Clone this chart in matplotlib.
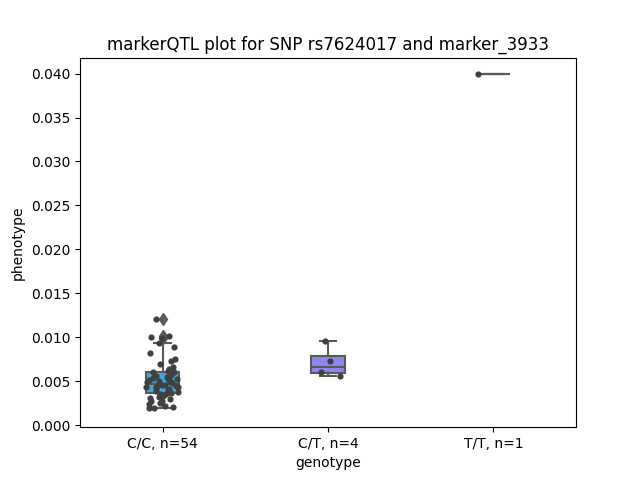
import numpy as np
import matplotlib
matplotlib.use("Agg")
import matplotlib.pyplot as plt
from matplotlib.ticker import FormatStrFormatter

categories = ["C/C, n=54", "C/T, n=4", "T/T, n=1"]
cc_values = [0.0019, 0.0020, 0.0021, 0.0022, 0.0024, 0.0025, 0.0027, 0.0028, 0.0030,
             0.0031, 0.0032, 0.0033, 0.0035, 0.0036, 0.0037,
             0.0038, 0.0039, 0.0040, 0.0041, 0.0042, 0.0043, 0.0043, 0.0044, 0.0045,
             0.0045, 0.0046, 0.0046, 0.0048,
             0.0049, 0.0050, 0.0050, 0.0051, 0.0052, 0.0053, 0.0054, 0.0055, 0.0056,
             0.0057, 0.0058, 0.0060,
             0.0061, 0.0062, 0.0064, 0.0066, 0.0070, 0.0073, 0.0075, 0.0082, 0.0089,
             0.0093, 0.0099, 0.0100, 0.0101, 0.0121]
ct_values = [0.0056, 0.0060, 0.0073, 0.0096]
tt_values = [0.0400]
groups = [cc_values, ct_values, tt_values]
box_colors = ["#3ca9df", "#8c88f0", "#c46fe0"]

line_gray = "#5a5a5a"
point_color = "#404040"

fig, ax = plt.subplots(figsize=(6.4, 4.8), dpi=100)
positions = np.arange(len(groups))

bp = ax.boxplot(groups, positions=positions, widths=0.2, patch_artist=True,
                whis=1.5, capwidths=0.1,
                boxprops=dict(edgecolor=line_gray, linewidth=1.5),
                whiskerprops=dict(color=line_gray, linewidth=1.5),
                capprops=dict(color=line_gray, linewidth=1.5),
                medianprops=dict(color=line_gray, linewidth=1.5),
                flierprops=dict(marker="d", markerfacecolor=line_gray,
                                markeredgecolor=line_gray, markersize=6))
for patch, c in zip(bp["boxes"], box_colors):
    patch.set_facecolor(c)

rng = np.random.default_rng(3)
jitters = [rng.uniform(-0.1, 0.1, size=len(v)) for v in groups]
jitters[2] = np.array([-0.09])
for pos, vals, jit in zip(positions, groups, jitters):
    ax.scatter(pos + jit, vals, s=20, color=point_color, zorder=3, linewidths=0)

ax.set_xticks(positions)
ax.set_xticklabels(categories)
ax.set_xlim(-0.5, 2.5)
ax.yaxis.set_major_formatter(FormatStrFormatter("%.3f"))
ax.set_yticks(np.arange(0, 0.0401, 0.005))
ax.set_ylim(-0.00023, 0.04182)
ax.set_xlabel("genotype")
ax.set_ylabel("phenotype")
ax.set_title("markerQTL plot for SNP rs7624017 and marker_3933")

fig.savefig("out.png", dpi=100)
